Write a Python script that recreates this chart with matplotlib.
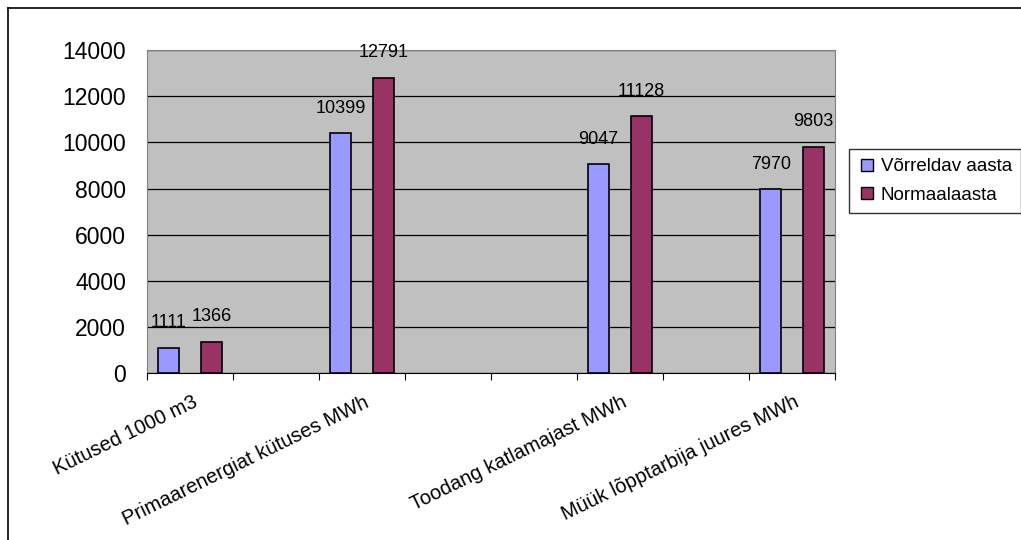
import matplotlib.pyplot as plt
from matplotlib.lines import Line2D

plt.rcParams['font.family'] = ['Liberation Sans', 'DejaVu Sans']

# 8 category slots, only four carry data / labels
categories = ['Kütused 1000 m3', '', 'Primaarenergiat kütuses MWh', '', '',
              'Toodang katlamajast MWh', '', 'Müük lõpptarbija juures MWh']
vorreldav = [1111, None, 10399, None, None, 9047, None, 7970]
normaal = [1366, None, 12791, None, None, 11128, None, 9803]
series_names = ['Võrreldav aasta', 'Normaalaasta']
colors = ['#9999FF', '#993366']

fig = plt.figure(figsize=(10.21, 5.4), dpi=100)
ax = fig.add_axes([0.144, 0.309, 0.674, 0.598])
ax.set_facecolor('#C0C0C0')

w = 0.25
for vals, off, c in [(vorreldav, -0.25, colors[0]), (normaal, 0.25, colors[1])]:
    for i, v in enumerate(vals):
        if v is None:
            continue
        ax.bar(i + off, v, width=w, color=c, edgecolor='black', linewidth=1.2, zorder=3)
        ax.annotate(str(v), (i + off, v), xytext=(0, 12), textcoords='offset points',
                    ha='center', va='bottom', fontsize=13, zorder=4)

ax.set_xlim(-0.5, len(categories) - 0.5)
ax.set_ylim(0, 14000)
ax.set_yticks(range(0, 14001, 2000))
ax.yaxis.grid(True, color='black', linewidth=0.9, zorder=1)
ax.tick_params(axis='y', length=0, pad=15, labelsize=16.5)

# boundary ticks between slots
ax.set_xticks([i - 0.5 for i in range(len(categories) + 1)])
ax.set_xticklabels([])
ax.tick_params(axis='x', direction='out', length=5, color='black')
for i, lab in enumerate(categories):
    if lab:
        ax.text(i + 0.02, -850, lab, rotation=26, ha='right', va='top', fontsize=14.5,
                rotation_mode='anchor')

for s in ['top', 'right', 'left']:
    ax.spines[s].set_color('#808080')
ax.spines['bottom'].set_color('black')

handles = [Line2D([], [], marker='s', linestyle='none', markerfacecolor=c,
                  markeredgecolor='black', markersize=9) for c in colors]
leg = fig.legend(handles, series_names, loc='upper left', bbox_to_anchor=(0.822, 0.742),
                 fontsize=13.5, frameon=True, fancybox=False, edgecolor='black',
                 handletextpad=0.2, borderpad=0.5, labelspacing=0.6, handlelength=1.0)
leg.get_frame().set_linewidth(1.0)

# outer chart border
fig.add_artist(Line2D([0.008, 1.0], [0.985, 0.985], color='black', linewidth=1.2))
fig.add_artist(Line2D([0.008, 0.008], [0.0, 0.985], color='black', linewidth=1.2))

fig.savefig('out.png', dpi=100)
